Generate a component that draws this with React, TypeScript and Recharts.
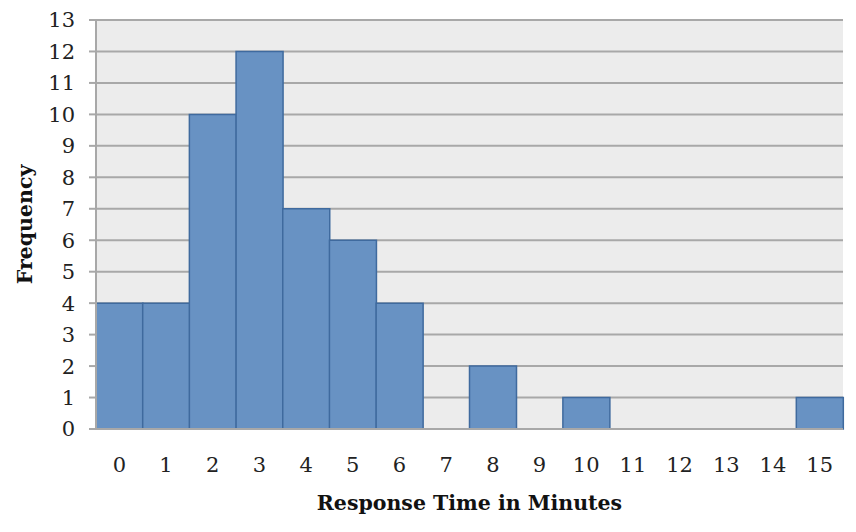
import React from 'react';
import { BarChart, Bar, XAxis, YAxis, CartesianGrid } from 'recharts';

const minutes = ['0', '1', '2', '3', '4', '5', '6', '7', '8', '9', '10', '11', '12', '13', '14', '15'];
const frequency = [4, 4, 10, 12, 7, 6, 4, 0, 2, 0, 1, 0, 0, 0, 0, 1];
const yTicks = [0, 1, 2, 3, 4, 5, 6, 7, 8, 9, 10, 11, 12, 13];

const data = minutes.map((m, i) => ({ minute: m, count: frequency[i] }));

const font = '"DejaVu Serif", "Liberation Serif", serif';

export default function App() {
  return (
    <div style={{ margin: -8, width: 856, height: 532, background: '#fff' }}>
      <BarChart
        width={856}
        height={532}
        data={data}
        margin={{ top: 20, right: 13, bottom: 22, left: 16 }}
        barCategoryGap={0}
      >
        <CartesianGrid vertical={false} fill="#ececec" stroke="#a8a8a8" strokeWidth={2} />
        <XAxis
          dataKey="minute"
          tickLine={false}
          axisLine={{ stroke: '#a8a8a8', strokeWidth: 2 }}
          tickMargin={22}
          height={81}
          tick={{ fontFamily: font, fontSize: 21, fill: '#222' }}
          label={{
            value: 'Response Time in Minutes',
            position: 'insideBottom',
            offset: 0,
            style: { fontFamily: font, fontSize: 20.5, fontWeight: 'bold', fill: '#111' },
          }}
        />
        <YAxis
          domain={[0, 13]}
          ticks={yTicks}
          interval={0}
          width={80}
          tickSize={7}
          tickMargin={14}
          tickLine={{ stroke: '#a8a8a8', strokeWidth: 2 }}
          axisLine={{ stroke: '#a8a8a8', strokeWidth: 2 }}
          tick={{ fontFamily: font, fontSize: 21, fill: '#222' }}
          label={{
            value: 'Frequency',
            angle: -90,
            position: 'insideLeft',
            offset: 9,
            style: { fontFamily: font, fontSize: 20.5, fontWeight: 'bold', fill: '#111', textAnchor: 'middle' },
          }}
        />
        <Bar dataKey="count" fill="#6892c3" stroke="#3f6a9e" strokeWidth={1.5} isAnimationActive={false} />
      </BarChart>
    </div>
  );
}
